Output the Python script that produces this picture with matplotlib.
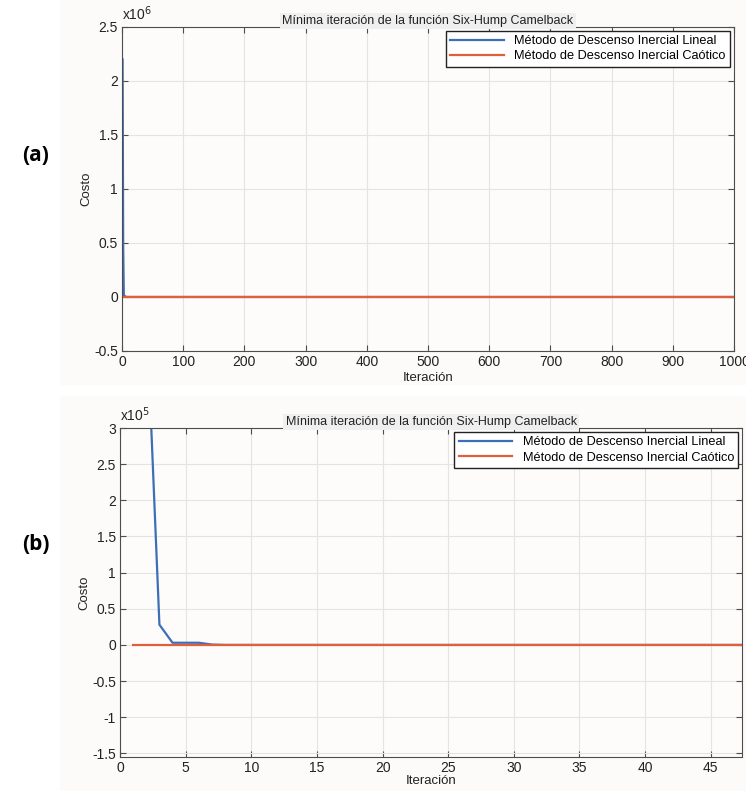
import numpy as np
import matplotlib
matplotlib.use("Agg")
import matplotlib.pyplot as plt
from matplotlib.ticker import FuncFormatter

plt.rcParams['font.family'] = ['Liberation Sans', 'DejaVu Sans']

# datos
n_iter = 1000
lineal_inicio = [2.2e6, 4.67e5, 2.8e4, 3.0e3, 3.0e3, 3.0e3, 5.0e2, 0.0]
caotico_inicio = [0.0, 0.0, 0.0]
titulo = "Mínima iteración de la función Six-Hump Camelback"
etiquetas = ["Método de Descenso Inercial Lineal", "Método de Descenso Inercial Caótico"]

it = np.arange(1, n_iter + 1)
lineal = np.concatenate([lineal_inicio, np.zeros(n_iter - len(lineal_inicio))])
caotico = np.concatenate([caotico_inicio, np.zeros(n_iter - len(caotico_inicio))])

c_azul = '#3D6FB6'
c_naranja = '#E0603A'

fig = plt.figure(figsize=(7.46, 7.91), dpi=100)
fig.patch.set_facecolor('white')
# fondo claro de cada panel
fig.patches.append(plt.Rectangle((0.08, 0.515), 0.92, 0.485, transform=fig.transFigure,
                                 color='#FCFBF9', zorder=-5))
fig.patches.append(plt.Rectangle((0.08, 0.0), 0.92, 0.50, transform=fig.transFigure,
                                 color='#FCFBF9', zorder=-5))

ax1 = fig.add_axes([0.1635, 0.5563, 0.984 - 0.1635, 0.9659 - 0.5563])
ax2 = fig.add_axes([0.1609, 0.0430, 0.995 - 0.1609, 0.4589 - 0.0430])


def estilo(ax, escala, exp, xpad):
    ax.set_facecolor('#FDFCFB')
    ax.grid(True, color='#E4E4E4', linewidth=0.8)
    ax.set_axisbelow(True)
    for s in ax.spines.values():
        s.set_color('#4D4D4D')
        s.set_linewidth(0.8)
    ax.tick_params(direction='in', length=4, width=0.8, colors='#4D4D4D',
                   labelcolor='#222222', labelsize=10, top=True, right=True, pad=3)
    ax.yaxis.set_major_formatter(FuncFormatter(lambda v, p: '%g' % round(v / escala, 3)))
    ax.text(0.0, 1.012, 'x10$^{%d}$' % exp, transform=ax.transAxes, fontsize=10,
            color='#222222', ha='left', va='bottom')
    ax.set_title(titulo, fontsize=9, color='#222222', pad=2,
                 bbox=dict(facecolor='#EFEFEF', edgecolor='none', pad=1.5))
    ax.set_ylabel('Costo', fontsize=9.5, color='#222222', labelpad=1)
    ax.set_xlabel('Iteración', fontsize=9.5, color='#222222', labelpad=xpad)
    leg = ax.legend(loc='upper right', fontsize=9.2, frameon=True, fancybox=False,
                    borderaxespad=0.3, handlelength=4.2, borderpad=0.35, labelspacing=0.25)
    leg.get_frame().set_edgecolor('#222222')
    leg.get_frame().set_linewidth(1.0)
    leg.get_frame().set_facecolor('white')
    leg.get_frame().set_alpha(1)


# panel (a)
ax1.plot(it, lineal, color=c_azul, lw=1.6, label=etiquetas[0])
ax1.plot(it, caotico, color=c_naranja, lw=1.6, label=etiquetas[1])
ax1.set_xlim(0, 1000)
ax1.set_ylim(-0.5e6, 2.5e6)
ax1.set_xticks(np.arange(0, 1001, 100))
ax1.set_yticks(np.arange(-0.5e6, 2.51e6, 0.5e6))
estilo(ax1, 1e6, 6, 2)

# panel (b)
ax2.plot(it, lineal, color=c_azul, lw=1.6, label=etiquetas[0])
ax2.plot(it, caotico, color=c_naranja, lw=1.6, label=etiquetas[1])
ax2.set_xlim(0, 47.4)
ax2.set_ylim(-1.55e5, 3e5)
ax2.set_xticks(np.arange(0, 46, 5))
ax2.set_yticks(np.arange(-1.5e5, 3.01e5, 0.5e5))
estilo(ax2, 1e5, 5, 0)

fig.text(0.030, 0.803, '(a)', fontsize=15, fontweight='bold', family=['Open Sans', 'DejaVu Sans'],
         ha='left', va='center')
fig.text(0.030, 0.311, '(b)', fontsize=15, fontweight='bold', family=['Open Sans', 'DejaVu Sans'],
         ha='left', va='center')

fig.savefig('out.png', dpi=100)
